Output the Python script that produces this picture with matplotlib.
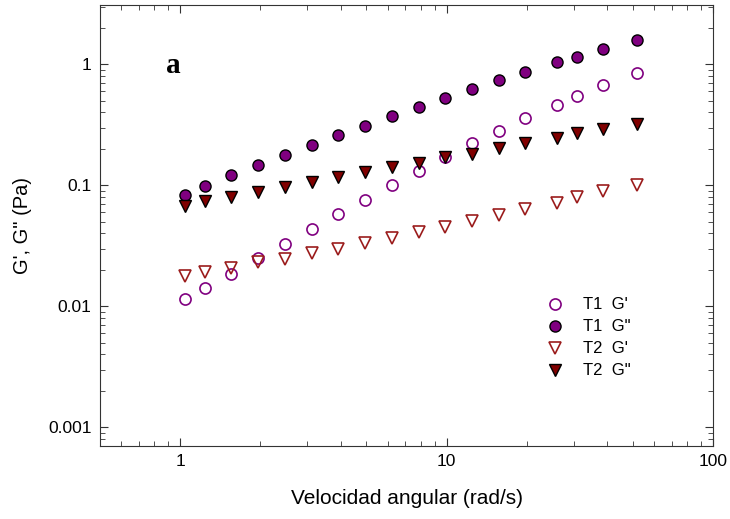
from matplotlib import pyplot as plt
from matplotlib import ticker
import numpy as np

# angular frequency (rad/s)
freq = [1.04, 1.24, 1.55, 1.95, 2.47, 3.11, 3.92, 4.95, 6.24, 7.86,
        9.89, 12.4, 15.7, 19.7, 25.9, 30.8, 38.7, 51.7]

t1_gp = [0.0114, 0.0142, 0.0186, 0.0251, 0.0329, 0.0432, 0.0577, 0.0759, 0.101,
         0.132, 0.172, 0.222, 0.282, 0.357, 0.464, 0.548, 0.672, 0.841]
t1_gpp = [0.0835, 0.098, 0.121, 0.146, 0.177, 0.214, 0.259, 0.310, 0.373,
          0.443, 0.527, 0.626, 0.736, 0.858, 1.04, 1.15, 1.35, 1.60]
t2_gp = [0.0178, 0.0193, 0.0209, 0.0230, 0.0248, 0.0273, 0.0296, 0.0331, 0.0369,
         0.0408, 0.0452, 0.0504, 0.0569, 0.0631, 0.0716, 0.0794, 0.0896, 0.100]
t2_gpp = [0.0668, 0.0736, 0.0798, 0.0879, 0.0968, 0.1065, 0.1166, 0.129, 0.142,
          0.153, 0.171, 0.183, 0.202, 0.222, 0.245, 0.268, 0.293, 0.320]

purple = '#800080'
maroon = '#800000'

plt.rcParams['font.family'] = ['Liberation Sans', 'DejaVu Sans']

fig = plt.figure(figsize=(7.3, 5.19), dpi=100)
ax = fig.add_axes([0.137, 0.1407, 0.840, 0.849])

ms = 8
ax.plot(freq, t1_gp, 'o', ms=ms, mfc='none', mec=purple, mew=1.2, label="T1  G'")
ax.plot(freq, t1_gpp, 'o', ms=ms, mfc=purple, mec='black', mew=1.0, label='T1  G"')
ax.plot(freq, t2_gp, 'v', ms=ms, mfc='none', mec='#9b1c1c', mew=1.2, label="T2  G'")
ax.plot(freq, t2_gpp, 'v', ms=ms, mfc=maroon, mec='black', mew=1.0, label='T2  G"')

ax.set_xscale('log')
ax.set_yscale('log')
ax.set_xlim(0.5, 100)
ax.set_ylim(0.0007, 3.07)

ax.xaxis.set_major_formatter(ticker.FuncFormatter(lambda v, p: '%g' % v))
ax.yaxis.set_major_formatter(ticker.FuncFormatter(lambda v, p: '%g' % v))
ax.xaxis.set_minor_formatter(ticker.NullFormatter())
ax.yaxis.set_minor_formatter(ticker.NullFormatter())

ax.tick_params(which='both', direction='in', top=True, right=True,
               labelsize=12.5, color='#333333')
ax.tick_params(which='major', length=6, pad=6)
ax.tick_params(which='minor', length=3.5)
for s in ax.spines.values():
    s.set_color('#333333')

ax.set_xlabel('Velocidad angular (rad/s)', fontsize=15, labelpad=14)
ax.set_ylabel('G\', G" (Pa)', fontsize=14.5, labelpad=12)

ax.text(0.119, 0.864, 'a', transform=ax.transAxes, fontsize=21,
        fontweight='bold', family='Liberation Serif', ha='center', va='center')

ax.legend(loc='upper left', bbox_to_anchor=(0.712, 0.356), frameon=False,
          fontsize=12, handletextpad=1.1, labelspacing=0.42,
          borderpad=0, handlelength=1.2)

fig.savefig('out.png', dpi=100)
